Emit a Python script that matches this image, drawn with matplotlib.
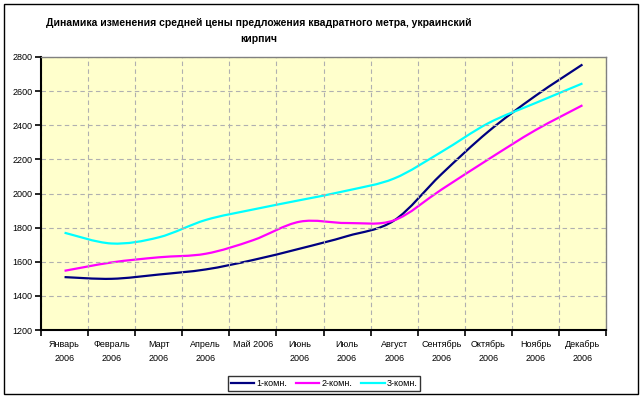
import numpy as np
import matplotlib
matplotlib.use("Agg")
import matplotlib.pyplot as plt
from matplotlib.path import Path
from matplotlib.patches import PathPatch, Rectangle
from matplotlib.lines import Line2D

plt.rcParams['font.family'] = ['Liberation Sans', 'DejaVu Sans']

# data
months = ["Январь\n2006", "Февраль\n2006", "Март\n2006", "Апрель\n2006", "Май 2006",
          "Июнь\n2006", "Июль\n2006", "Август\n2006", "Сентябрь\n2006", "Октябрь\n2006",
          "Ноябрь\n2006", "Декабрь\n2006"]
room1 = [1510, 1500, 1525, 1555, 1610, 1677, 1750, 1842, 2112, 2363, 2572, 2756]
room2 = [1547, 1596, 1626, 1647, 1726, 1835, 1827, 1843, 2022, 2200, 2371, 2517]
room3 = [1770, 1707, 1743, 1845, 1906, 1961, 2017, 2088, 2243, 2412, 2530, 2645]
names = ["1-комн.", "2-комн.", "3-комн."]
colors = ["#000080", "#FF00FF", "#00FFFF"]


def smooth_path(x, y):
    # Excel-like smoothed line: cubic bezier through every point
    x = np.asarray(x, float)
    y = np.asarray(y, float)
    n = len(x)
    verts = [(x[0], y[0])]
    codes = [Path.MOVETO]
    for i in range(n - 1):
        i0 = max(i - 1, 0)
        i3 = min(i + 2, n - 1)
        c1 = (x[i] + (x[i + 1] - x[i0]) / 6, y[i] + (y[i + 1] - y[i0]) / 6)
        c2 = (x[i + 1] - (x[i3] - x[i]) / 6, y[i + 1] - (y[i3] - y[i]) / 6)
        verts += [c1, c2, (x[i + 1], y[i + 1])]
        codes += [Path.CURVE4] * 3
    return Path(verts, codes)


fig = plt.figure(figsize=(6.43, 3.98), dpi=100)
fig.patches.append(Rectangle((4 / 643, 4 / 398), 634 / 643, 390 / 398, transform=fig.transFigure,
                             fill=False, edgecolor="black", linewidth=1))

ax = fig.add_axes([41 / 643, 68 / 398, 565 / 643, 273 / 398])
ax.set_facecolor("#FFFFCC")

xs = np.arange(len(months))
for vals, c in zip([room1, room2, room3], colors):
    ax.add_patch(PathPatch(smooth_path(xs, vals), fill=False, edgecolor=c, linewidth=1.6,
                           capstyle="butt", joinstyle="round"))

ax.set_xlim(-0.5, len(months) - 0.5)
ax.set_ylim(1200, 2800)
ax.set_yticks(range(1200, 2801, 200))
ax.set_xticks(xs)
ax.set_xticklabels(months, fontsize=6.5, linespacing=1.75)
ax.set_xticks(np.arange(-0.5, len(months), 1), minor=True)
ax.tick_params(axis="x", which="major", length=0, pad=7)
ax.tick_params(axis="x", which="minor", length=4, width=1.2)
ax.tick_params(axis="y", length=4, width=1.2, labelsize=6.5, pad=2)

ax.grid(axis="y", which="major", color="#B0B0B0", linestyle=(0, (4, 3)), linewidth=0.8)
ax.grid(axis="x", which="minor", color="#B0B0B0", linestyle=(0, (4, 3)), linewidth=0.8)

for s in ["top", "right"]:
    ax.spines[s].set_color("#808080")
    ax.spines[s].set_linewidth(1)
for s in ["left", "bottom"]:
    ax.spines[s].set_linewidth(1.5)

fig.text(259 / 643, 1 - 30.5 / 398,
         "Динамика изменения средней цены предложения квадратного метра, украинский\nкирпич",
         ha="center", va="center", fontsize=7.5, fontweight="bold", linespacing=1.75)

handles = [Line2D([], [], color=c, linewidth=1.6) for c in colors]
leg = fig.legend(handles, names, loc="center", bbox_to_anchor=(324 / 643, 1 - 383.7 / 398),
                 ncol=3, fontsize=6.5, frameon=True, fancybox=False, edgecolor="black",
                 handlelength=2.6, handletextpad=0.2, columnspacing=1.0, borderpad=0.3)
leg.get_frame().set_linewidth(1)

fig.savefig("out.png", dpi=100)
